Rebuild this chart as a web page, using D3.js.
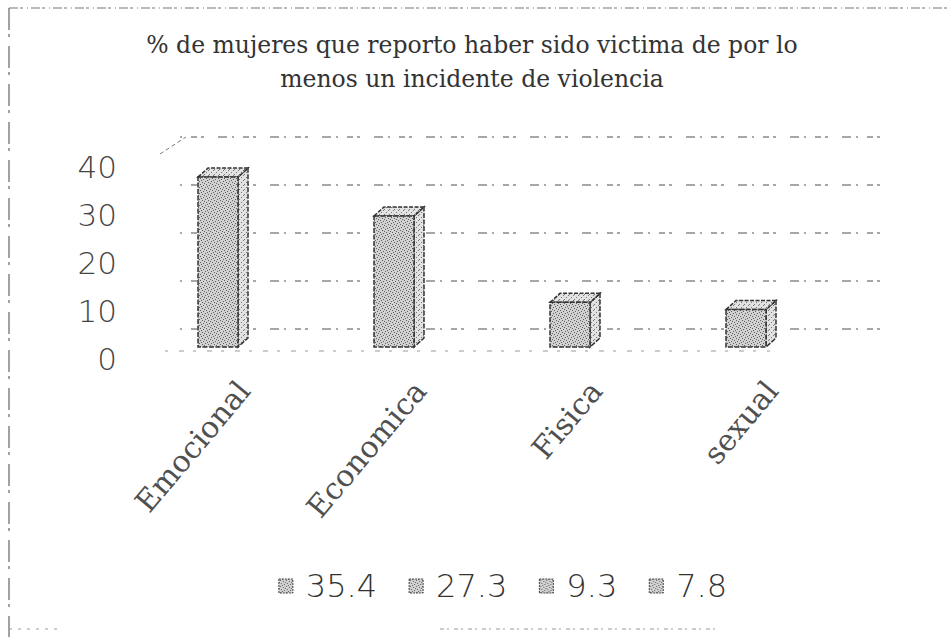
<!DOCTYPE html>
<html>
<head>
<meta charset="utf-8">
<script src="https://cdn.jsdelivr.net/npm/d3@7"></script>
<style>
  html, body { margin: 0; padding: 0; background: #fff; }
  svg { display: block; }
</style>
</head>
<body>
<svg id="chart" width="947" height="637"></svg>
<script>
// ---- data ----
const categories = ["Emocional", "Economica", "Fisica", "sexual"];
const values = [35.4, 27.3, 9.3, 7.8];
const seriesNames = ["35.4", "27.3", "9.3", "7.8"];
const yTicks = [0, 10, 20, 30, 40];
const titleLines = ["% de mujeres que reporto haber sido victima de por lo", "menos un incidente de violencia"];

const W = 947, H = 637;
const svg = d3.select("#chart");

// patterns (stippled grey, like the scan)
const defs = svg.append("defs");
const pat = defs.append("pattern").attr("id", "stip").attr("patternUnits", "userSpaceOnUse")
  .attr("width", 6).attr("height", 6);
pat.append("rect").attr("width", 6).attr("height", 6).attr("fill", "#d2d2d2");
[[1,1],[4,2],[2,4],[5,5],[0,3],[3,0]].forEach(([a,b]) =>
  pat.append("rect").attr("x", a).attr("y", b).attr("width", 1).attr("height", 1).attr("fill", "#606060"));
const pat2 = defs.append("pattern").attr("id", "stip2").attr("patternUnits", "userSpaceOnUse")
  .attr("width", 5).attr("height", 5);
pat2.append("rect").attr("width", 5).attr("height", 5).attr("fill", "#e2e2e2");
[[1,2],[3,0],[4,4]].forEach(([a,b]) =>
  pat2.append("rect").attr("x", a).attr("y", b).attr("width", 1).attr("height", 1).attr("fill", "#777"));

// frame (scan-like dashed border)
svg.append("line").attr("x1", 9).attr("x2", W).attr("y1", 8).attr("y2", 8)
  .attr("stroke", "#777").attr("stroke-width", 1.2).attr("stroke-dasharray", "9 2 3 4 1 3");
svg.append("line").attr("x1", 9).attr("x2", 9).attr("y1", 8).attr("y2", 637)
  .attr("stroke", "#666").attr("stroke-width", 1.2).attr("stroke-dasharray", "22 4 3 9");
svg.append("line").attr("x1", 9).attr("x2", 60).attr("y1", 629).attr("y2", 629)
  .attr("stroke", "#999").attr("stroke-width", 1).attr("stroke-dasharray", "3 6");
svg.append("line").attr("x1", 440).attr("x2", 720).attr("y1", 629).attr("y2", 629)
  .attr("stroke", "#999").attr("stroke-width", 1).attr("stroke-dasharray", "4 3 2 5");

// title
const title = svg.append("text").attr("text-anchor", "middle")
  .attr("font-family", "DejaVu Serif").attr("font-size", 23.5).attr("fill", "#333");
titleLines.forEach((t, i) => title.append("tspan").attr("x", 472).attr("y", 53 + i * 34).text(t));

// scales
const y = d3.scaleLinear().domain([0, 40]).range([347, 155]);
const x = d3.scaleBand().domain(categories).range([150, 854]).padding(0);
const barW = 40, depX = 10, depY = 9, wallDY = 18;

// back-wall gridlines (faint, broken dots like the scan)
svg.append("g").selectAll("line").data(yTicks).join("line")
  .attr("x1", 180).attr("x2", 880)
  .attr("y1", d => y(d) - wallDY).attr("y2", d => y(d) - wallDY)
  .attr("stroke", "#8a8a8a").attr("stroke-width", 1.3).attr("stroke-dasharray", "2 9 6 4 3 14 9 5");
// wall corner diagonal
svg.append("line").attr("x1", 160).attr("y1", y(40) - wallDY + 17).attr("x2", 186).attr("y2", y(40) - wallDY)
  .attr("stroke", "#777").attr("stroke-dasharray", "4 3");
// floor front edge
svg.append("line").attr("x1", 165).attr("x2", 770).attr("y1", y(0) + 4).attr("y2", y(0) + 4)
  .attr("stroke", "#999").attr("stroke-width", 1.2).attr("stroke-dasharray", "3 11 5 9");

// y axis labels
const yAxis = d3.axisLeft(y).tickValues(yTicks).tickSize(0).tickPadding(0);
const ga = svg.append("g").attr("transform", "translate(117,11)").call(yAxis);
ga.select(".domain").remove();
ga.selectAll("text").attr("font-family", "DejaVu Sans").attr("font-weight", 200)
  .attr("font-size", 31).attr("fill", "#444").attr("dy", "0.36em");

// bars (3D columns)
const bars = svg.append("g").selectAll("g").data(categories.map((c, i) => ({ c, v: values[i] }))).join("g");
const cx = d => x(d.c) + x.bandwidth() / 2 - 20;
// side face
bars.append("path").attr("d", d => {
  const x1 = cx(d) + barW / 2, t = y(d.v), b = y(0);
  return `M${x1},${t}L${x1 + depX},${t - depY}L${x1 + depX},${b - depY}L${x1},${b}Z`;
}).attr("fill", "url(#stip2)").attr("stroke", "#333").attr("stroke-width", 1.5).attr("stroke-dasharray", "5 1.5");
// top face
bars.append("path").attr("d", d => {
  const x0 = cx(d) - barW / 2, x1 = cx(d) + barW / 2, t = y(d.v);
  return `M${x0},${t}L${x0 + depX},${t - depY}L${x1 + depX},${t - depY}L${x1},${t}Z`;
}).attr("fill", "url(#stip2)").attr("stroke", "#333").attr("stroke-width", 1.5).attr("stroke-dasharray", "4 1.5");
// front face
bars.append("rect")
  .attr("x", d => cx(d) - barW / 2).attr("y", d => y(d.v))
  .attr("width", barW).attr("height", d => y(0) - y(d.v))
  .attr("fill", "url(#stip)").attr("stroke", "#333").attr("stroke-width", 1.5).attr("stroke-dasharray", "5 1.5");

// category labels
const xAxis = d3.axisBottom(x).tickSize(0).tickPadding(0);
const gx = svg.append("g").attr("transform", "translate(14,392)").call(xAxis);
gx.select(".domain").remove();
gx.selectAll("text").attr("font-family", "DejaVu Serif").attr("font-size", 30).attr("fill", "#505050")
  .attr("text-anchor", "end").attr("dy", 0).attr("y", 0).attr("transform", "rotate(-50)");

// legend
const lg = svg.append("g").attr("transform", "translate(0,597)");
const items = [];
seriesNames.forEach((s, i) => {
  const it = lg.append("g");
  it.append("rect").attr("x", 0).attr("y", -18).attr("width", 14).attr("height", 14)
    .attr("fill", "url(#stip)").attr("stroke", "#444").attr("stroke-width", 1).attr("stroke-dasharray", "2 1");
  const t = it.append("text").attr("x", 27).attr("font-family", "DejaVu Sans").attr("font-weight", 200)
    .attr("font-size", 32).attr("fill", "#333").text(s);
  const w = 27 + t.node().getComputedTextLength();
  items.push({ it, w });
});
const gap = 32;
const total = d3.sum(items, d => d.w) + gap * (items.length - 1);
let lx = 503 - total / 2;
items.forEach(d => { d.it.attr("transform", `translate(${lx},0)`); lx += d.w + gap; });
</script>
</body>
</html>
